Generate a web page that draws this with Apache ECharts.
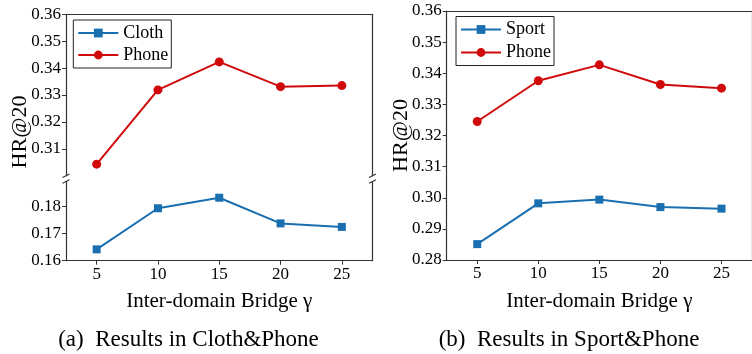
<!DOCTYPE html>
<html>
<head>
<meta charset="utf-8">
<script src="https://cdn.jsdelivr.net/npm/echarts@6/dist/echarts.min.js"></script>
<style>html,body{margin:0;padding:0;background:#fff}#c{width:752px;height:354px}</style>
</head>
<body>
<div id="c"></div>
<script>
// ---- data ----
var gamma = [5, 10, 15, 20, 25];
var gammaTicks = [5, 10, 15, 20, 25];
var clothHR = [0.1642, 0.1794, 0.1833, 0.1738, 0.1725];
var phoneHR_a = [0.3043, 0.3319, 0.3423, 0.3331, 0.3335];
var sportHR = [0.2851, 0.2982, 0.2994, 0.2970, 0.2965];
var phoneHR_b = [0.3245, 0.3376, 0.3427, 0.3364, 0.3352];
var upperTicksA = [0.31, 0.32, 0.33, 0.34, 0.35, 0.36];
var lowerTicksA = [0.16, 0.17, 0.18];
var ticksB = [0.28, 0.29, 0.30, 0.31, 0.32, 0.33, 0.34, 0.35, 0.36];

var FONT = 'Liberation Serif';
var BLUE = '#1a6fb0';
var RED = '#d00a0a';
var AX = '#333';

function pairs(xs, ys) { return xs.map(function (x, i) { return [x, ys[i]]; }); }

// layout
var gA = { left: 66, width: 306.5 };
var gAu = { top: 14.3, height: 161.4 };
var gAl = { top: 181.5, height: 79.2 };
var gB = { left: 446.7, width: 311, top: 11, height: 249 };

var chart = echarts.init(document.getElementById('c'), null, { renderer: 'canvas' });

function xMain(grid, showLine, showLabels, name, nameGap) {
  return {
    type: 'value', gridIndex: grid, min: 2.5, max: 27.5, position: 'bottom',
    axisLine: { show: showLine, lineStyle: { color: AX, width: 1.2 } },
    axisTick: { show: showLabels, inside: false, length: 4, customValues: gammaTicks, lineStyle: { color: AX } },
    axisLabel: { show: showLabels, customValues: gammaTicks, margin: 5, fontFamily: FONT, fontSize: 17, color: '#000' },
    splitLine: { show: false },
    name: name || '', nameLocation: 'middle', nameGap: nameGap || 0,
    nameTextStyle: { fontFamily: FONT, fontSize: 21, color: '#000' }
  };
}
function spineX(grid) {
  return { type: 'value', gridIndex: grid, position: 'top', min: 0, max: 1,
    axisLine: { show: true, onZero: false, lineStyle: { color: AX, width: 1.2 } },
    axisTick: { show: false }, axisLabel: { show: false }, splitLine: { show: false } };
}
function spineY(grid) {
  return { type: 'value', gridIndex: grid, position: 'right', min: 0, max: 1,
    axisLine: { show: true, onZero: false, lineStyle: { color: AX, width: 1.2 } },
    axisTick: { show: false }, axisLabel: { show: false }, splitLine: { show: false } };
}
function yMain(grid, min, max, ticks, name, nameGap) {
  return {
    type: 'value', gridIndex: grid, min: min, max: max, position: 'left',
    axisLine: { show: true, onZero: false, lineStyle: { color: AX, width: 1.2 } },
    axisTick: { show: true, length: 4, customValues: ticks, lineStyle: { color: AX } },
    axisLabel: { show: true, customValues: ticks, margin: 5, fontFamily: FONT, fontSize: 17, color: '#000',
      formatter: function (v) { return v.toFixed(2); } },
    splitLine: { show: false },
    name: name || '', nameLocation: 'middle', nameGap: nameGap || 0, nameRotate: 90,
    nameMoveOverlap: false,
    nameTextStyle: { fontFamily: FONT, fontSize: 22, color: '#000' }
  };
}
function lineSeries(name, xi, yi, data, color, symbol, size) {
  return {
    type: 'line', name: name, xAxisIndex: xi, yAxisIndex: yi, data: data,
    symbol: symbol, symbolSize: size, showSymbol: true,
    lineStyle: { color: color, width: 2 }, itemStyle: { color: color },
    emphasis: { disabled: true }, animation: false, z: 3
  };
}
function legend(left, top, names, gap) {
  return {
    orient: 'vertical', left: left, top: top, data: names,
    itemWidth: 40, itemHeight: 11, itemGap: gap, padding: [4, 3, 4, 4],
    borderColor: '#222', borderWidth: 1, backgroundColor: '#fff', borderRadius: 0,
    textStyle: { fontFamily: FONT, fontSize: 18, color: '#000' }, selectedMode: false
  };
}

// break marks (decoration) at the left chart's broken axis
function brk(x, y) {
  return { type: 'line', shape: { x1: x - 3.5, y1: y + 1.8, x2: x + 3.5, y2: y - 1.8 },
    style: { stroke: AX, lineWidth: 1.1 }, z: 100 };
}
var upBottom = gAu.top + gAu.height, loTop = gAl.top, rx = gA.left + gA.width;

chart.setOption({
  animation: false,
  textStyle: { fontFamily: FONT },
  grid: [
    { left: gA.left, width: gA.width, top: gAu.top, height: gAu.height },
    { left: gA.left, width: gA.width, top: gAl.top, height: gAl.height },
    { left: gB.left, width: gB.width, top: gB.top, height: gB.height }
  ],
  xAxis: [
    xMain(0, false, false),
    xMain(1, true, true, 'Inter-domain Bridge \u03b3', 30),
    xMain(2, true, true, 'Inter-domain Bridge \u03b3', 30.5),
    spineX(0),
    spineX(2)
  ],
  yAxis: [
    yMain(0, 0.30, 0.36, upperTicksA),
    yMain(1, 0.16, 0.1893, lowerTicksA),
    yMain(2, 0.28, 0.36, ticksB, 'HR@20', 34),
    spineY(0),
    spineY(1),
    spineY(2)
  ],
  legend: [legend(73.3, 20, ['Cloth', 'Phone'], 4), legend(456, 16.5, ['Sport', 'Phone'], 5)],
  series: [
    lineSeries('Cloth', 1, 1, pairs(gamma, clothHR), BLUE, 'rect', 8),
    lineSeries('Phone', 0, 0, pairs(gamma, phoneHR_a), RED, 'circle', 9),
    lineSeries('Sport', 2, 2, pairs(gamma, sportHR), BLUE, 'rect', 8),
    lineSeries('Phone', 2, 2, pairs(gamma, phoneHR_b), RED, 'circle', 9)
  ],
  graphic: [
    { type: 'text', x: 20, y: 132, rotation: Math.PI / 2,
      style: { text: 'HR@20', font: '22px "' + FONT + '"', fill: '#000', align: 'center', verticalAlign: 'middle' } },
    { type: 'text', x: 188.5, y: 340,
      style: { text: '(a)  Results in Cloth&Phone', font: '23px "' + FONT + '"', fill: '#000', align: 'center', verticalAlign: 'middle' } },
    { type: 'text', x: 569, y: 340,
      style: { text: '(b)  Results in Sport&Phone', font: '23px "' + FONT + '"', fill: '#000', align: 'center', verticalAlign: 'middle' } },
    brk(gA.left, upBottom), brk(rx, upBottom), brk(gA.left, loTop), brk(rx, loTop)
  ]
});
</script>
</body>
</html>
